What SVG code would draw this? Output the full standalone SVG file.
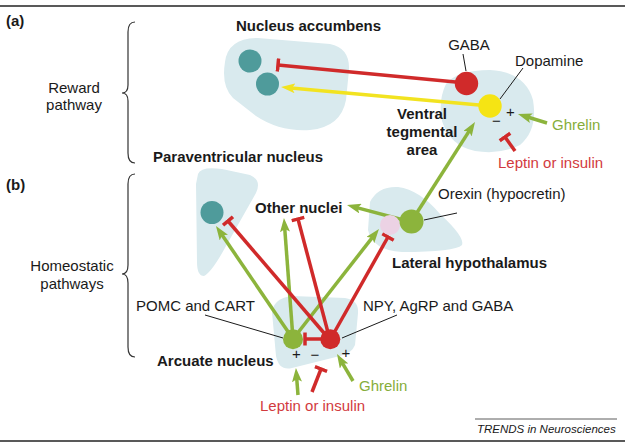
<svg xmlns="http://www.w3.org/2000/svg" width="628" height="446" viewBox="0 0 628 446">
<style>
text{font-family:"Liberation Sans",Arial,sans-serif;font-size:15px;fill:#1a1a1a}
.b{font-weight:bold}
.g{fill:#86ad3a}
.r{fill:#d23a3e}
.blob{fill:#d9eaee}
.gl{stroke:#8cb43c;stroke-width:3.5;fill:none}
.rl{stroke:#d02a2a;stroke-width:3.5;fill:none}
.yl{stroke:#f2e320;stroke-width:3.5;fill:none}
.lead{stroke:#1a1a1a;stroke-width:1;fill:none}
.brace{stroke:#333;stroke-width:1.2;fill:none}
</style>
<defs>
<marker id="ag" markerUnits="userSpaceOnUse" viewBox="0 0 14 10" refX="4" refY="5" markerWidth="14" markerHeight="10" orient="auto"><path d="M0,0 L14,5 L0,10 L3,5 Z" fill="#8cb43c"/></marker>
<marker id="ay" markerUnits="userSpaceOnUse" viewBox="0 0 14 10" refX="4" refY="5" markerWidth="14" markerHeight="10" orient="auto"><path d="M0,0 L14,5 L0,10 L3,5 Z" fill="#f2e320"/></marker>
<marker id="tb" markerUnits="userSpaceOnUse" viewBox="-2 -7 4 14" refX="0" refY="0" markerWidth="4" markerHeight="14" orient="auto"><path d="M0,-6.5 L0,6.5" stroke="#d02a2a" stroke-width="3.5"/></marker>
</defs>

<g id="frame">
<line x1="0" y1="6" x2="625" y2="6" stroke="#222" stroke-width="1.5"/>
<line x1="0" y1="441" x2="625" y2="441" stroke="#222" stroke-width="1.5"/>
<line x1="475" y1="419" x2="617" y2="419" stroke="#333" stroke-width="0.8"/>
<text x="477" y="433" style="font-size:11.5px;font-style:italic">TRENDS in Neurosciences</text>
</g>

<g id="panel-a">
<text x="6" y="26" class="b">(a)</text>
<path class="brace" d="M135,22 Q128,22 128,32 L128,85 Q128,93 122,93 Q128,93 128,101 L128,153 Q128,163 135,163"/>
<text x="74" y="93" text-anchor="middle">Reward</text>
<text x="74" y="110" text-anchor="middle">pathway</text>
</g>
<g id="panel-b">
<text x="6" y="190" class="b">(b)</text>
<path class="brace" d="M135,174 Q128,174 128,184 L128,265 Q128,274 122,274 Q128,274 128,283 L128,347 Q128,357 135,357"/>
<text x="72" y="271" text-anchor="middle">Homeostatic</text>
<text x="72" y="289" text-anchor="middle">pathways</text>
</g>

<g id="blobs">
<path class="blob" d="M225,62 Q228,38 258,38 L330,44 Q350,48 349,70 L346,100 Q341,127 310,130 Q280,132 256,116 L233,98 Q221,86 225,62 Z"/>
<path class="blob" d="M446,84 Q457,70 490,70 Q525,72 533,100 Q538,130 520,145 Q500,155 475,151 Q450,146 442,121 Q438,100 446,84 Z"/>
<path class="blob" d="M198,174 Q201,166 222,169 L250,175 Q262,180 256,193 L226,246 Q212,272 204,276 Q197,276 197,262 L196,184 Z"/>
<path class="blob" d="M370,202 Q378,186 398,187 Q420,190 440,214 Q465,237 462,245 Q455,252 402,252 Q372,250 368,230 Z"/>
<path class="blob" d="M272,312 Q274,298 292,296 L345,298 Q359,300 358,313 L355,345 Q352,353 340,356 L292,368 Q279,371 276,356 Z"/>
</g>

<g id="connectors">
<line class="rl" x1="466" y1="83" x2="278" y2="65" marker-end="url(#tb)"/>
<line class="yl" x1="490" y1="106" x2="291" y2="87.9" marker-end="url(#ay)"/>
<line class="gl" x1="547" y1="123" x2="527.5" y2="117" marker-end="url(#ag)"/>
<line class="rl" x1="515" y1="151" x2="505" y2="137" marker-end="url(#tb)"/>
<line class="gl" x1="411" y1="222" x2="469.6" y2="130.4" marker-end="url(#ag)"/>
<line class="gl" x1="411" y1="222" x2="356.7" y2="207.6" marker-end="url(#ag)"/>
<line class="gl" x1="293" y1="339" x2="221.6" y2="234.3" marker-end="url(#ag)"/>
<line class="gl" x1="293" y1="339" x2="284.7" y2="228" marker-end="url(#ag)"/>
<line class="gl" x1="293" y1="339" x2="372.8" y2="236.9" marker-end="url(#ag)"/>
<line class="rl" x1="330" y1="340" x2="228" y2="221" marker-end="url(#tb)"/>
<line class="rl" x1="330" y1="340" x2="298" y2="219" marker-end="url(#tb)"/>
<line class="rl" x1="330" y1="340" x2="388" y2="237" marker-end="url(#tb)"/>
<line class="rl" x1="330" y1="339" x2="305" y2="339" marker-end="url(#tb)"/>
<line class="gl" x1="298" y1="395" x2="296.7" y2="378" marker-end="url(#ag)"/>
<line class="rl" x1="312" y1="392" x2="321" y2="369" marker-end="url(#tb)"/>
<line class="gl" x1="353" y1="381" x2="342.1" y2="362.6" marker-end="url(#ag)"/>
<line class="lead" x1="463" y1="54" x2="466" y2="71"/>
<line class="lead" x1="523" y1="68" x2="500" y2="99"/>
<line class="lead" x1="424" y1="220" x2="457" y2="213"/>
<line class="lead" x1="205" y1="315" x2="283" y2="338"/>
<line class="lead" x1="342" y1="338" x2="397" y2="315"/>
</g>

<g id="nucleus-accumbens">
<circle cx="250" cy="61" r="11.5" fill="#4f9b9b"/>
<circle cx="267.5" cy="84" r="11.5" fill="#4f9b9b"/>
<text x="236" y="31" class="b">Nucleus accumbens</text>
</g>

<g id="ventral-tegmental-area">
<circle cx="466.5" cy="83.5" r="11.7" fill="#d02a2a"/>
<circle cx="490" cy="106" r="11.7" fill="#f5e414"/>
<text x="469" y="50" text-anchor="middle">GABA</text>
<text x="515" y="66">Dopamine</text>
<text x="510.5" y="117" text-anchor="middle">+</text>
<text x="496.5" y="126" text-anchor="middle">−</text>
<text x="552" y="130" class="g">Ghrelin</text>
<text x="498" y="168" class="r">Leptin or insulin</text>
<text x="422" y="119" class="b" text-anchor="middle">Ventral</text>
<text x="422" y="137" class="b" text-anchor="middle">tegmental</text>
<text x="422" y="155" class="b" text-anchor="middle">area</text>
</g>

<g id="paraventricular-nucleus">
<circle cx="212" cy="212.5" r="11.5" fill="#4f9b9b"/>
<text x="153" y="162" class="b">Paraventricular nucleus</text>
</g>

<g id="other-nuclei">
<text x="255" y="213" class="b">Other nuclei</text>
</g>

<g id="lateral-hypothalamus">
<circle cx="390" cy="225" r="10" fill="#ecd2e4"/>
<circle cx="411.5" cy="221.5" r="12" fill="#8cb43c"/>
<text x="438" y="199">Orexin (hypocretin)</text>
<text x="392" y="268" class="b">Lateral hypothalamus</text>
</g>

<g id="arcuate-nucleus">
<circle cx="293" cy="339.3" r="10" fill="#8cb43c"/>
<circle cx="330.3" cy="339.3" r="10" fill="#d02a2a"/>
<text x="136" y="311">POMC and CART</text>
<text x="363" y="311">NPY, AgRP and GABA</text>
<text x="157" y="366" class="b">Arcuate nucleus</text>
<text x="296.5" y="359" text-anchor="middle">+</text>
<text x="315" y="360" text-anchor="middle">−</text>
<text x="346" y="358" text-anchor="middle">+</text>
<text x="359" y="391" class="g">Ghrelin</text>
<text x="260" y="411" class="r">Leptin or insulin</text>
</g>
</svg>
